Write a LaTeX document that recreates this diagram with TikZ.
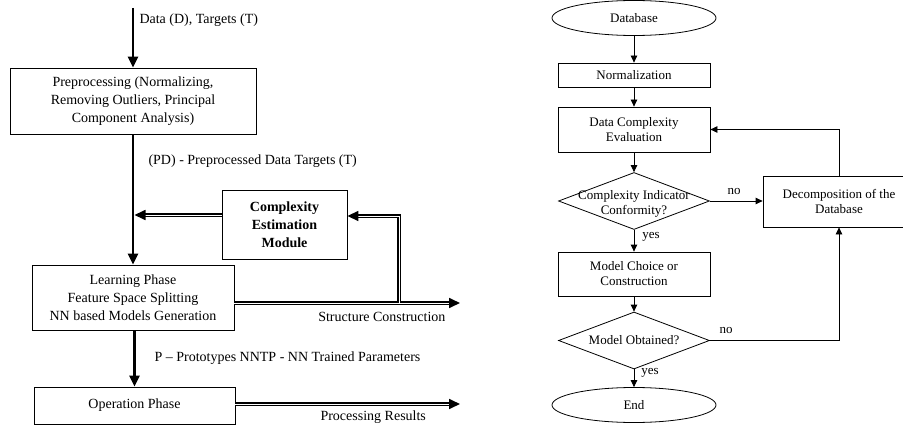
\documentclass[tikz,border=0pt]{standalone}
\usepackage{fontspec}
\setmainfont{Liberation Serif}
\usetikzlibrary{arrows.meta, shapes.geometric}

\begin{document}
\begin{tikzpicture}[x=1pt, y=-1pt, >={Triangle[length=11pt,width=10pt]},
    every node/.style={font=\fontsize{14}{18}\selectfont, align=center},
    ftext/.style={font=\fontsize{13}{15}\selectfont},
    blk/.style={draw, line width=0.9pt, inner sep=0pt},
    flow/.style={draw, line width=0.8pt, inner sep=0pt, ftext},
    heavy/.style={->, line width=2.6pt},
    dbl/.style={->, double, double distance=0.8pt, line width=1.7pt},
    farrow/.style={line width=0.8pt, -{Triangle[length=7pt,width=6.5pt]}}]
    \path[use as bounding box, clip] (0,0) rectangle (903,428);

    % Nodes (learning scheme)
    \coordinate (datain) at (133,8);
    \node[blk, minimum width=246, minimum height=66] (prep) at (133,101)
        {Preprocessing (Normalizing,\\Removing Outliers, Principal\\Component Analysis)};
    \node[blk, font=\fontsize{14}{18}\selectfont\bfseries, minimum width=125, minimum height=69] (cem) at (284.5,224.5)
        {Complexity\\Estimation\\Module};
    \node[blk, minimum width=202, minimum height=65] (learn) at (133,297.5)
        {Learning Phase\\Feature Space Splitting\\NN based Models Generation};
    \node[blk, minimum width=201, minimum height=37] (oper) at (134.5,405.5) {Operation Phase};
    \coordinate (tap) at (399,303);
    \coordinate (structout) at (460,303);
    \coordinate (resout) at (460,404);

    % Labels
    \node[anchor=west] (datalbl) at (136,20) {Data (D), Targets (T)};
    \node[anchor=west] (pdlbl) at (145,161) {(PD) - Preprocessed Data Targets (T)};
    \node[anchor=east] (sclbl) at (449,317) {Structure Construction};
    \node[anchor=west] (plbl) at (151,358) {P -- Prototypes NNTP - NN Trained Parameters};
    \node[anchor=west] (prlbl) at (317,417) {Processing Results};

    % Arrows
    \draw[heavy] (datain) -- (prep);
    \draw[heavy] (prep) -- (learn);
    \draw[dbl, shorten >=1.5pt] (cem.west |- 0,215) -- (prep.south |- 0,215);
    \draw[dbl] (learn.east |- tap) -- (structout);
    \draw[dbl] (tap) |- (cem.east |- 0,216);
    \draw[heavy] (oper.north |- learn.south) -- (oper);
    \draw[dbl] (oper.east |- resout) -- (resout);

    % Nodes (flowchart)
    \node[flow, ellipse, minimum width=164, minimum height=35] (db) at (634,18) {Database};
    \node[flow, minimum width=152, minimum height=24] (norm) at (634,75) {Normalization};
    \node[flow, minimum width=152, minimum height=45] (dce) at (634,129.5) {Data Complexity\\Evaluation};
    \node[flow, diamond, minimum width=151, minimum height=57,
        label={[ftext, yshift=-3pt]center:Complexity Indicator\\Conformity?}] (cic) at (634,201) {};
    \node[flow, minimum width=152, minimum height=51] (dec) at (839,201.5) {Decomposition of the\\Database};
    \node[flow, minimum width=152, minimum height=44] (mcc) at (634,274) {Model Choice or\\Construction};
    \node[flow, diamond, minimum width=151, minimum height=57,
        label={[ftext]center:Model Obtained?}] (mo) at (634,340.5) {};
    \node[flow, ellipse, minimum width=164, minimum height=35] (end) at (634,405) {End};

    \node[ftext] (no1) at (734,192) {no};
    \node[ftext] (yes1) at (651,237) {yes};
    \node[ftext] (no2) at (726,330) {no};
    \node[ftext] (yes2) at (650,373) {yes};

    % Arrows
    \draw[farrow] (db) -- (norm);
    \draw[farrow] (norm) -- (dce);
    \draw[farrow] (dce) -- (cic);
    \draw[farrow] (cic.east) -- (dec.west |- cic.east);
    \draw[farrow] (cic) -- (mcc);
    \draw[farrow] (mcc) -- (mo);
    \draw[farrow] (mo) -- (end);
    \draw[farrow] (dec.north) |- (dce.east);
    \draw[farrow] (mo.east) -| (dec.south);
\end{tikzpicture}
\end{document}
